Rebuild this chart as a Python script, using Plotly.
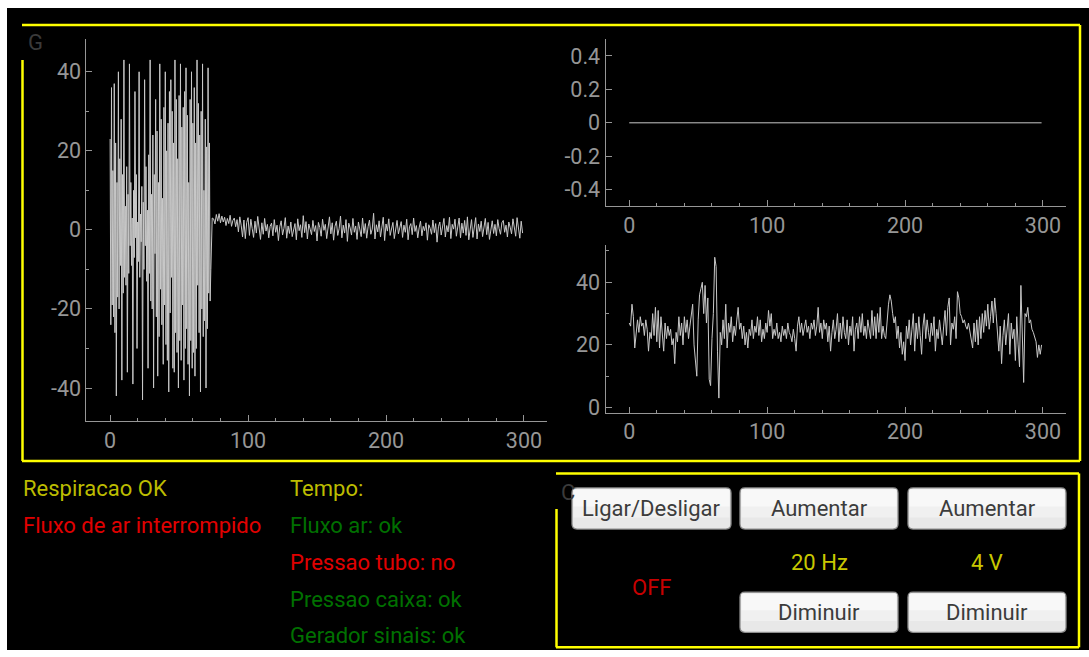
import plotly.graph_objects as go

W, H = 1089, 657

# ---------------- data ----------------
# air flow: burst section sampled every 0.5, then every 1
burst_time = [i * 0.5 for i in range(146)]
burst_flow = [
    23, -24, 36, -19, 15, -22, 37, -26, 22, -42,
    12, -17, 40, -20, 18, -9, 28, -38, 14, -16,
    43, -12, 6, -14, 16, -36, 9, -11, 42, -4,
    12, -9, 3, -39, 10, -7, 35, -2, 14, -30,
    2, -8, 40, -12, 4, -3, 11, -43, 7, -10,
    38, -4, 16, -13, 5, -35, 19, -11, 43, -18,
    9, -20, 24, -40, 14, -6, 33, -22, 25, -37,
    12, -27, 42, -15, 28, -24, 8, -34, 31, -19,
    40, -29, 20, -33, 27, -41, 35, -21, 38, -12,
    30, -35, 22, -36, 43, -26, 33, -31, 18, -40,
    34, -28, 42, -33, 26, -19, 31, -38, 35, -30,
    41, -25, 29, -34, 12, -42, 33, -28, 40, -35,
    27, -31, 36, -37, 22, -30, 43, -14, 32, -26,
    24, -41, 30, -20, 42, -27, 10, -23, 28, -40,
    21, -25, 41, -16, 22, -18,
]
rest_time = list(range(73, 300))
rest_flow = [
    -10, 3,
    2.8, 1.5, 3.9, 2.2, 4.1, 1.8, 3.5, 2.0, 3.2, 1.1, 2.9, 1.6, 3.7, 0.9, 2.4,
    3.0, 0.8, 2.6, -0.5, 3.3, 1.2, -1.8, 2.5, -2.2, 1.9, 3.1, -1.4, 2.7, 0.3, -1.9,
    2.2, -0.8, 3.4, 0.6, -2.4, 1.8, -1.1, 2.9, -0.3, 1.4, -2.0, 0.9, 1.7, -1.5, 2.6,
    -0.6, 1.2, -2.7, 0.8, 2.3, -1.3, 0.4, 3.1, -2.1, 1.0, -0.9, 2.0, -1.7, 0.5, 1.6,
    -2.5, 2.8, -0.2, 1.3, -1.9, 3.6, -0.7, 2.1, -2.3, 1.5, 0.2, -1.2, 2.4, -0.4, 1.1,
    -2.8, 1.9, 0.6, -1.6, 2.7, -0.1, 1.4, -2.2, 0.7, 3.3, -1.0, 1.8, -2.6, 0.9, 2.2,
    -1.4, 0.3, 3.5, -2.0, 1.2, -0.8, 2.6, -2.9, 1.7, 0.5, -1.3, 2.9, -0.6, 1.0, -2.4,
    2.0, 0.4, -1.7, 3.0, -0.9, 1.6, -2.1, 0.8, 2.5, -1.1, 0.2, 4.2, -2.3, 1.3, -0.5,
    2.3, -1.8, 0.7, 3.2, -2.7, 1.5, -0.3, 2.8, -1.4, 0.6, 1.9, -2.2, 0.9, 2.4, -1.0,
    0.3, 2.1, -1.9, 1.2, -0.6, 2.7, -2.5, 0.8, 1.6, -1.2, 3.0, -0.4, 1.1, -2.0, 0.5,
    2.2, -1.5, 0.9, -0.2, 1.8, -2.6, 1.3, 0.4, -1.1, 2.5, -0.7, 1.6, -3.1, 0.8, 2.0,
    -1.3, 0.6, 2.9, -1.8, 1.1, -0.5, 3.2, -2.2, 1.4, 0.2, 2.7, -1.6, 0.9, 3.0, -2.0,
    1.7, -0.8, 2.4, -1.4, 3.3, -2.5, 1.0, 2.6, -1.9, 0.7, 3.1, -2.3, 1.5, -0.4, 2.2,
    -1.7, 0.8, 2.9, -1.2, 1.9, -2.4, 0.5, 2.3, -0.9, 1.4, -1.5, 2.6, 0.3, -1.1, 1.8,
    2.4, -0.6, 1.2, -1.8, 2.0, 0.7, -1.0, 2.8, 0.4, -1.6, 3.1, 1.0, -2.1, 2.2, -0.8,
]
flow_time = burst_time + rest_time
air_flow = burst_flow + rest_flow

sample_index = list(range(300))
tube_pressure = [0.0] * 300  # constant zero reading

box_pressure = [
    27, 26, 33, 29, 19, 25, 28, 24, 29, 26, 27, 23, 28, 25, 18,
    24, 22, 30, 23, 32, 21, 31, 19, 29, 24, 18, 27, 22, 26, 23,
    25, 20, 22, 14, 24, 21, 29, 23, 27, 20, 29, 24, 28, 22, 26,
    29, 33, 20, 15, 10, 28, 36, 38, 40, 30, 39, 27, 35, 9, 7,
    22, 30, 48, 45, 18, 3, 24, 20, 28, 22, 33, 19, 27, 24, 29,
    21, 26, 23, 28, 32, 25, 27, 22, 26, 20, 24, 19, 25, 23, 28,
    22, 26, 24, 29, 23, 28, 21, 25, 22, 27, 24, 31, 26, 30, 22,
    25, 23, 27, 22, 24, 21, 26, 23, 25, 22, 27, 24, 23, 21, 25,
    22, 18, 26, 29, 24, 27, 23, 25, 28, 24, 26, 22, 27, 25, 28,
    23, 26, 32, 24, 27, 22, 28, 25, 27, 21, 26, 18, 24, 28, 22,
    25, 30, 21, 27, 22, 29, 24, 22, 28, 20, 26, 23, 29, 18, 25,
    27, 22, 29, 24, 30, 23, 26, 22, 28, 24, 22, 31, 23, 29, 22,
    30, 24, 32, 22, 26, 23, 22, 28, 33, 36, 34, 30, 27, 29, 22,
    26, 19, 24, 17, 21, 15, 26, 22, 28, 20, 25, 30, 18, 27, 22,
    29, 23, 17, 26, 30, 22, 28, 24, 21, 27, 23, 29, 18, 25, 22,
    28, 24, 20, 26, 31, 23, 32, 35, 20, 27, 25, 29, 22, 37, 35,
    30, 29, 27, 28, 26, 25, 27, 24, 22, 19, 27, 21, 28, 20, 29,
    22, 30, 24, 31, 26, 33, 25, 29, 34, 27, 35, 30, 22, 18, 26,
    14, 23, 28, 20, 24, 30, 17, 27, 22, 25, 15, 29, 20, 13, 39,
    24, 8, 30, 29, 32, 27, 28, 25, 24, 22, 21, 16, 20, 17, 20,
]

x_ticks = [0, 100, 200, 300]
x_minor = [20, 40, 60, 80, 120, 140, 160, 180, 220, 240, 260, 280]
flow_ticks = [-40, -20, 0, 20, 40]
flow_ticktext = ["-40", "-20", "0", "20", "40"]
flow_minor = [-30, -10, 10, 30]
tube_ticks = [-0.4, -0.2, 0, 0.2, 0.4]
tube_ticktext = ["-0.4", "-0.2", "0", "0.2", "0.4"]
box_ticks = [0, 20, 40]
box_ticktext = ["0", "20", "40"]
box_minor = [10, 30, 50]

status_left = [("Respiracao OK", "#bcbc00"), ("Fluxo de ar interrompido", "#e00000")]
status_right = [("Tempo:", "#bcbc00"), ("Fluxo ar: ok", "#007000"),
                ("Pressao tubo: no", "#e00000"), ("Pressao caixa: ok", "#007000"),
                ("Gerador sinais: ok", "#007000")]
power_state = "OFF"
frequency_label = "20 Hz"
voltage_label = "4 V"

# ---------------- helpers ----------------
KY = 1.013

def X(px):
    return px / W

def Y(py):
    return 1 - (8 + (py - 8) * KY) / H

FONT = "Roboto"
AX = "#969696"
LINE = "#c8c8c8"
YEL = "#ffff00"

fig = go.Figure()

fig.add_trace(go.Scatter(x=flow_time, y=air_flow, mode="lines",
                         line=dict(color=LINE, width=1), xaxis="x", yaxis="y",
                         hoverinfo="skip", showlegend=False))
fig.add_trace(go.Scatter(x=sample_index, y=tube_pressure, mode="lines",
                         line=dict(color=LINE, width=1), xaxis="x2", yaxis="y2",
                         hoverinfo="skip", showlegend=False))
fig.add_trace(go.Scatter(x=sample_index, y=box_pressure, mode="lines",
                         line=dict(color=LINE, width=1), xaxis="x3", yaxis="y3",
                         hoverinfo="skip", showlegend=False))

tickfont = dict(family=FONT, size=21.5, color=AX)

def xax(domain, anchor):
    return dict(domain=domain, anchor=anchor, range=[-17.2, 316.7],
                tickmode="array", tickvals=x_ticks, ticks="inside", ticklen=6,
                tickcolor=AX, showline=True, linecolor=AX, linewidth=1,
                showgrid=False, zeroline=False, tickfont=tickfont,
                minor=dict(tickmode="array", tickvals=x_minor, ticks="inside",
                           ticklen=3, tickcolor=AX, showgrid=False),
                fixedrange=True)

def yax(domain, anchor, rng, vals, text, minor=None):
    d = dict(domain=domain, anchor=anchor, range=rng, tickmode="array",
             tickvals=vals, ticktext=text, ticks="inside", ticklen=6,
             tickcolor=AX, showline=True, linecolor=AX, linewidth=1,
             showgrid=False, zeroline=False, tickfont=tickfont, fixedrange=True)
    if minor:
        d["minor"] = dict(tickmode="array", tickvals=minor, ticks="inside",
                          ticklen=3, tickcolor=AX, showgrid=False)
    return d

shapes = []
# black window
shapes.append(dict(type="rect", xref="paper", yref="paper", x0=X(7), x1=1, y0=0, y1=Y(8),
                   fillcolor="#000000", line=dict(width=0), layer="below"))

def seg(x0, y0, x1, y1, color=YEL, w=2.5):
    shapes.append(dict(type="line", xref="paper", yref="paper", x0=X(x0), y0=Y(y0),
                       x1=X(x1), y1=Y(y1), line=dict(color=color, width=w), layer="below"))

# graph group frame
seg(22, 25, 1080, 25)
seg(1080, 25, 1080, 460)
seg(22, 460, 1080, 460)
seg(22.5, 60, 22.5, 460)
# control group frame
seg(556, 472.5, 1079, 472.5)
seg(1079, 472.5, 1079, 646)
seg(556, 646, 1079, 646)
seg(556.5, 508, 556.5, 646)

def rounded(x0, y0, x1, y1, r=5):
    rx, ry = r / W, r / H
    a, b, c, d = X(x0), Y(y0), X(x1), Y(y1)  # b top, d bottom in paper
    return (f"M {a+rx},{b} L {c-rx},{b} Q {c},{b} {c},{b-ry} "
            f"L {c},{d+ry} Q {c},{d} {c-rx},{d} L {a+rx},{d} "
            f"Q {a},{d} {a},{d+ry} L {a},{b-ry} Q {a},{b} {a+rx},{b} Z")

buttons = [
    ("Ligar/Desligar", 572, 487, 731, 528),
    ("Aumentar", 740, 487, 898, 528),
    ("Aumentar", 908, 487, 1066, 528),
    ("Diminuir", 740, 591, 898, 631),
    ("Diminuir", 908, 591, 1066, 631),
]
annotations = []
for label, x0, y0, x1, y1 in buttons:
    shapes.append(dict(type="path", xref="paper", yref="paper", path=rounded(x0, y0, x1, y1),
                       fillcolor="#e8e8e8", line=dict(color="#8c8c8c", width=1.3), layer="below"))
    h = y1 - y0
    shapes.append(dict(type="rect", xref="paper", yref="paper", x0=X(x0 + 1.5), x1=X(x1 - 1.5),
                       y0=Y(y0 + h * 0.72), y1=Y(y0 + 1.5), fillcolor="#f0f0f0",
                       line=dict(width=0), layer="below"))
    shapes.append(dict(type="rect", xref="paper", yref="paper", x0=X(x0 + 1.5), x1=X(x1 - 1.5),
                       y0=Y(y0 + h * 0.45), y1=Y(y0 + 1.5), fillcolor="#f8f8f8",
                       line=dict(width=0), layer="below"))
    annotations.append(dict(xref="paper", yref="paper", x=X((x0 + x1) / 2), y=Y((y0 + y1) / 2),
                            text=label, showarrow=False, xanchor="center", yanchor="middle",
                            font=dict(family=FONT, size=22, color="#3c3c3c")))

def txt(s, x, y, color, anchor="left", size=22):
    annotations.append(dict(xref="paper", yref="paper", x=X(x), y=Y(y), text=s,
                            showarrow=False, xanchor=anchor, yanchor="middle",
                            font=dict(family=FONT, size=size, color=color)))

ys_left = [488, 524]
for (s, c), yy in zip(status_left, ys_left):
    txt(s, 21, yy, c)
ys_right = [488, 524, 561, 598, 634]
for (s, c), yy in zip(status_right, ys_right):
    txt(s, 288, yy, c)
txt(power_state, 651, 586, "#c80000", "center")
txt(frequency_label, 819, 561, "#c8c800", "center")
txt(voltage_label, 987, 561, "#c8c800", "center")
# group box titles (mostly hidden in the original)
txt("G", 26, 43, "#3a3a3a")
txt("C", 559, 492, "#3a3a3a")

fig.update_layout(
    width=W, height=H, margin=dict(l=0, r=0, t=0, b=0),
    paper_bgcolor="#ffffff", plot_bgcolor="rgba(0,0,0,0)",
    showlegend=False, hovermode=False,
    xaxis=xax([X(86.4), X(547)], "y"),
    yaxis=yax([Y(420), Y(39)], "x", [-48.3, 48.3], flow_ticks, flow_ticktext, flow_minor),
    xaxis2=xax([X(605.5), X(1066)], "y2"),
    yaxis2=yax([Y(206), Y(39.3)], "x2", [-0.5, 0.5], tube_ticks, tube_ticktext),
    xaxis3=xax([X(605.5), X(1066)], "y3"),
    yaxis3=yax([Y(411.7), Y(244.3)], "x3", [-1.6, 52], box_ticks, box_ticktext, box_minor),
    shapes=shapes, annotations=annotations,
)

fig.write_html("out.html", config={"displayModeBar": False, "staticPlot": True})
